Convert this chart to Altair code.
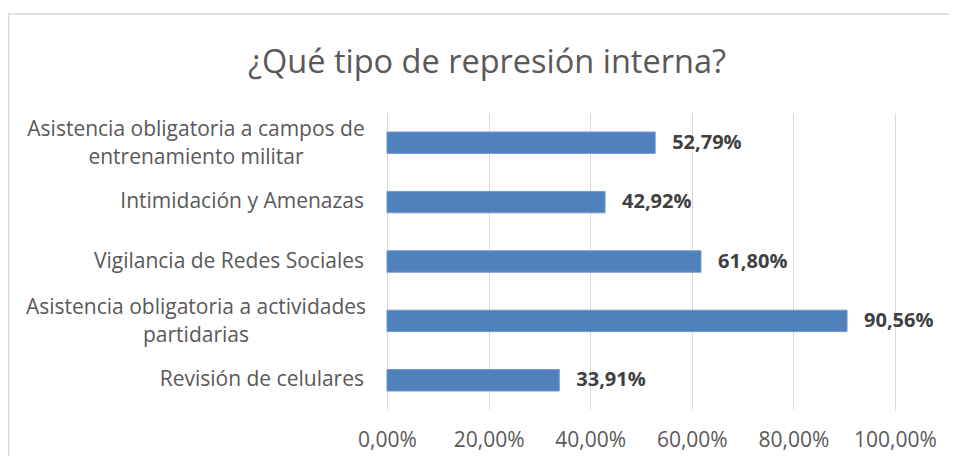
import altair as alt
import pandas as pd

categories = [
    "Asistencia obligatoria a campos de\nentrenamiento militar",
    "Intimidación y Amenazas",
    "Vigilancia de Redes Sociales",
    "Asistencia obligatoria a actividades\npartidarias",
    "Revisión de celulares",
]
values = [52.79, 42.92, 61.80, 90.56, 33.91]
x_ticks = [0, 20, 40, 60, 80, 100]
title_text = ["¿Qué tipo de represión interna?"]

df = pd.DataFrame({"cat": categories, "val": values})

FONT = "Open Sans"
TEXT = "#595959"
GRID = "#d9d9d9"

y = alt.Y("cat:N", sort=categories, axis=None,
          scale=alt.Scale(paddingInner=0.64, paddingOuter=0.32))

base = alt.Chart(df)

bars = base.mark_bar(color="#4f81bd", stroke="#6f98cb", strokeWidth=1).encode(
    x=alt.X("val:Q", scale=alt.Scale(domain=[0, 100]),
            axis=alt.Axis(values=x_ticks, title=None,
                          labelExpr="replace(format(datum.value,'.2f'),'.',',') + '%'",
                          grid=True, gridColor=GRID, gridWidth=1, domain=False, ticks=False,
                          labelOverlap=False, labelFlush=False, labelFont=FONT,
                          labelFontSize=21, labelColor=TEXT, labelPadding=19)),
    y=y,
)

vlabels = base.transform_calculate(
    label="replace(format(datum.val,'.2f'),'.',',') + '%'"
).mark_text(align="left", baseline="middle", dx=17, fontWeight="bold", fontSize=20,
            color="#404040", font=FONT).encode(
    x="val:Q", y=y, text="label:N")

single = base.transform_filter("indexof(datum.cat, '\\n') < 0").mark_text(
    align="right", baseline="middle", font=FONT, fontSize=21, color=TEXT
).encode(x=alt.value(-23), y=y, text="cat:N")

multi = base.transform_filter("indexof(datum.cat, '\\n') >= 0").mark_text(
    align="center", baseline="middle", font=FONT, fontSize=21, color=TEXT,
    lineBreak="\n", lineHeight=28, dy=-12.5
).encode(x=alt.value(-191), y=y, text="cat:N")

title = alt.Chart(pd.DataFrame({"t": title_text})).mark_text(
    align="center", baseline="middle", font=FONT, fontSize=32.5, color=TEXT
).encode(x=alt.value(100), y=alt.value(-50), text="t:N")

border = alt.Chart(pd.DataFrame({"k": [0]})).mark_rect(
    fillOpacity=0, stroke=GRID, strokeWidth=1.5
).encode(x=alt.value(-378.5), x2=alt.value(620), y=alt.value(-99), y2=alt.value(420))

chart = alt.layer(border, title, bars, vlabels, single, multi).properties(
    width=508, height=297,
    autosize=alt.AutoSizeParams(type="none"),
    padding={"left": 379, "top": 105, "right": 54, "bottom": 46},
    background="white",
).configure_view(strokeWidth=0)

chart.save("out.html", embed_options={"renderer": "svg", "actions": False})
